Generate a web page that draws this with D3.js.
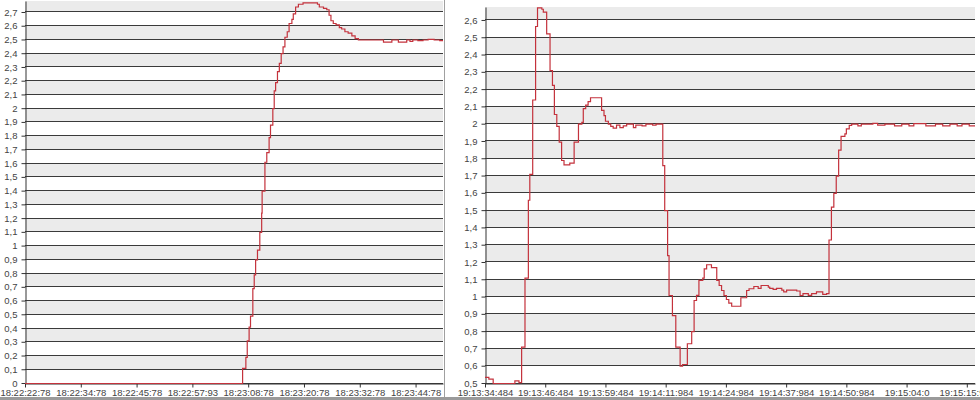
<!DOCTYPE html>
<html>
<head>
<meta charset="utf-8">
<script src="https://cdn.jsdelivr.net/npm/d3@7"></script>
<style>
  body { margin: 0; background: #fff; }
  .tick text { font-family: "Liberation Sans", Arial, sans-serif; font-size: 9.5px; fill: #444; }
  .tick line { stroke: #333; }
  .domain { stroke: #333; }
</style>
</head>
<body>
<div id="chart"></div>
<script>
// Left panel data (seconds from first tick, value)
var leftTicks = ["18:22:22:78", "18:22:34:78", "18:22:45:78", "18:22:57:93",
  "18:23:08:78", "18:23:20:78", "18:23:32:78", "18:23:44:78"];
var leftTimes = [0, 46.8, 47.5, 47.8, 48.2, 48.5, 49.0, 49.3, 49.6, 50.0, 50.5, 50.9, 51.0,
  51.6, 52.0, 52.5, 52.8, 53.3, 53.6, 53.9, 54.3, 54.7, 55.1, 55.5, 55.9, 56.4, 56.8, 57.4,
  57.7, 58.2, 58.8, 59.8, 62.9, 63.3, 64.2, 64.9, 65.4, 65.8, 66.3, 66.9, 67.6, 68.1, 68.8,
  69.5, 70.3, 71.0, 71.7, 77.1, 78.9, 80.3, 82.1, 82.8, 83.4, 84.5, 85.6, 86.7, 88.0, 89.2];
var leftValues = [0, 0.11, 0.19, 0.31, 0.41, 0.49, 0.69, 0.79, 0.90, 0.97, 1.10, 1.24, 1.40,
  1.61, 1.68, 1.79, 1.88, 2.00, 2.13, 2.19, 2.27, 2.33, 2.40, 2.45, 2.52, 2.56, 2.62, 2.65,
  2.69, 2.74, 2.76, 2.77, 2.76, 2.74, 2.73, 2.72, 2.68, 2.64, 2.62, 2.61, 2.59, 2.58, 2.56,
  2.55, 2.53, 2.51, 2.50, 2.485, 2.50, 2.485, 2.50, 2.49, 2.50, 2.495, 2.50, 2.505, 2.50, 2.495];

// Right panel data
var rightTicks = ["19:13:34:484", "19:13:46:484", "19:13:59:484", "19:14:11:984",
  "19:14:24:984", "19:14:37:984", "19:14:50:984", "19:15:04:0", "19:15:15:984"];
var rightTimes = [0, 0.8, 1.7, 6.2, 7.05, 7.6, 8.3, 9.0, 9.3, 9.9, 10.5, 10.9, 11.8, 12.1,
  12.8, 13.5, 14.0, 14.4, 14.9, 15.4, 15.9, 16.4, 17.6, 18.5, 19.4, 20.1, 20.4, 20.9, 21.4,
  21.9, 24.2, 24.7, 25.0, 25.6, 26.1, 26.6, 27.3, 28.0, 28.7, 29.4, 30.8, 31.3, 32.6, 33.4,
  34.8, 35.5, 36.9, 37.3, 37.9, 38.2, 38.9, 39.6, 40.5, 41.0, 42.0, 42.9, 43.4, 43.9, 44.4,
  45.2, 45.5, 46.0, 47.0, 48.1, 48.6, 49.1, 49.6, 50.1, 50.6, 51.2, 53.1, 54.3, 54.8, 55.8,
  56.7, 57.3, 58.8, 59.1, 59.8, 60.5, 61.6, 62.0, 62.6, 64.7, 65.4, 66.0, 67.1, 67.8, 68.8,
  70.1, 70.9, 71.4, 71.9, 72.4, 72.9, 73.4, 73.9, 74.7, 75.0, 75.6, 76.1, 77.4, 78.1, 80.5,
  81.5, 83.0, 85.0, 86.5, 88.0, 89.0, 91.5, 93.5, 95.0, 96.5, 98.0, 99.0, 100.5];
var rightValues = [0.535, 0.525, 0.50, 0.515, 0.505, 0.71, 1.11, 1.56, 1.71, 2.14, 2.565,
  2.673, 2.665, 2.648, 2.523, 2.31, 2.224, 2.056, 1.987, 1.896, 1.79, 1.765, 1.775, 1.896,
  2.0, 2.01, 2.09, 2.11, 2.13, 2.153, 2.08, 2.05, 2.017, 2.0, 1.987, 1.977, 1.995, 1.98, 1.99,
  2.0, 1.98, 1.995, 1.99, 2.0, 1.995, 2.0, 1.76, 1.50, 1.24, 1.009, 0.893, 0.71, 0.60, 0.61,
  0.73, 0.80, 0.98, 1.01, 1.096, 1.11, 1.163, 1.187, 1.17, 1.096, 1.067, 1.038, 1.009, 0.986,
  0.965, 0.947, 0.996, 1.038, 1.048, 1.061, 1.05, 1.067, 1.058, 1.05, 1.045, 1.05, 1.04, 1.03,
  1.04, 1.035, 1.009, 1.02, 1.01, 1.02, 1.03, 1.015, 1.02, 1.33, 1.52, 1.60, 1.70, 1.85, 1.93,
  1.944, 1.973, 1.993, 2.0, 1.99, 2.0, 2.005, 1.995, 2.0, 1.99, 2.0, 1.99, 2.003, 1.99, 2.0,
  1.99, 2.0, 1.99, 2.0, 1.99];

var svgWidth = 980;
var svgHeight = 400;

var svg = d3.select("#chart")
  .append("svg")
  .attr("width", svgWidth)
  .attr("height", svgHeight)
  .style("display", "block");

// snap to pixel centres so grid lines stay crisp
function snap(v) { return Math.round(v - 0.5) + 0.5; }

// one panel: bands, grid, axes, step line
function drawPanel(p) {
  var x = d3.scaleLinear().domain(p.xDomain).range([p.left, p.right]);
  var y = d3.scaleLinear().domain(p.yDomain).range([p.bottom, p.top]);
  var g = svg.append("g");

  // alternating bands between y ticks (odd band grey)
  var edges = p.yTicks.concat([p.yDomain[1]]);
  g.selectAll("rect.band")
    .data(edges.slice(0, -1))
    .enter()
    .append("rect")
    .attr("x", p.left)
    .attr("width", p.right - p.left)
    .attr("y", (d, i) => Math.round(y(edges[i + 1])))
    .attr("height", (d, i) => Math.round(y(d)) - Math.round(y(edges[i + 1])))
    .attr("fill", (d, i) => i % 2 ? "#ebebeb" : "#fff");

  // horizontal grid lines
  g.selectAll("line.grid")
    .data(p.yTicks)
    .enter()
    .append("line")
    .attr("x1", p.left)
    .attr("x2", p.right)
    .attr("y1", d => snap(y(d)))
    .attr("y2", d => snap(y(d)))
    .attr("stroke", "#3a3a3a")
    .attr("stroke-width", 1);

  g.append("g")
    .attr("transform", `translate(0, ${snap(p.bottom)})`)
    .call(d3.axisBottom(x)
      .tickValues(p.tickLabels.map((s, i) => i * p.tickStep))
      .tickFormat((d, i) => p.tickLabels[i])
      .tickSize(4)
      .tickSizeOuter(0))
    .selectAll("text").attr("dy", "0.6em");

  g.append("g")
    .attr("transform", `translate(${p.left + 0.5}, 0)`)
    .call(d3.axisLeft(y)
      .tickValues(p.yTicks)
      .tickFormat(d => String(d).replace(".", ","))
      .tickSize(4)
      .tickSizeOuter(0))
    .selectAll("text").attr("dx", "-1");

  // step line on top of everything
  var pts = p.times.map((t, i) => [t, p.values[i]]);
  pts.push([p.xDomain[1], p.values[p.values.length - 1]]);
  var line = d3.line()
    .x(d => x(d[0]))
    .y(d => y(d[1]) + 0.5)
    .curve(d3.curveStepAfter);
  g.append("path")
    .datum(pts)
    .attr("d", line)
    .attr("fill", "none")
    .attr("stroke", "#c4323c")
    .attr("stroke-width", 1.2);
}

drawPanel({
  left: 25, right: 443, top: 1, bottom: 383,
  xDomain: [0, 89.9], yDomain: [0, 2.78],
  yTicks: d3.range(0, 28).map(k => +(k / 10).toFixed(1)),
  tickLabels: leftTicks, tickStep: 12,
  times: leftTimes, values: leftValues
});

drawPanel({
  left: 485, right: 975, top: 7, bottom: 383,
  xDomain: [0, 101.7], yDomain: [0.5, 2.675],
  yTicks: d3.range(5, 27).map(k => +(k / 10).toFixed(1)),
  tickLabels: rightTicks, tickStep: 12.5,
  times: rightTimes, values: rightValues
});

// panel separator and bottom border
svg.append("line")
  .attr("x1", 444.5).attr("x2", 444.5)
  .attr("y1", 0).attr("y2", 397)
  .attr("stroke", "#a0a0a0");
svg.append("rect")
  .attr("x", 0).attr("y", 397)
  .attr("width", svgWidth).attr("height", 3)
  .attr("fill", "#9a9a9a");
</script>
</body>
</html>
